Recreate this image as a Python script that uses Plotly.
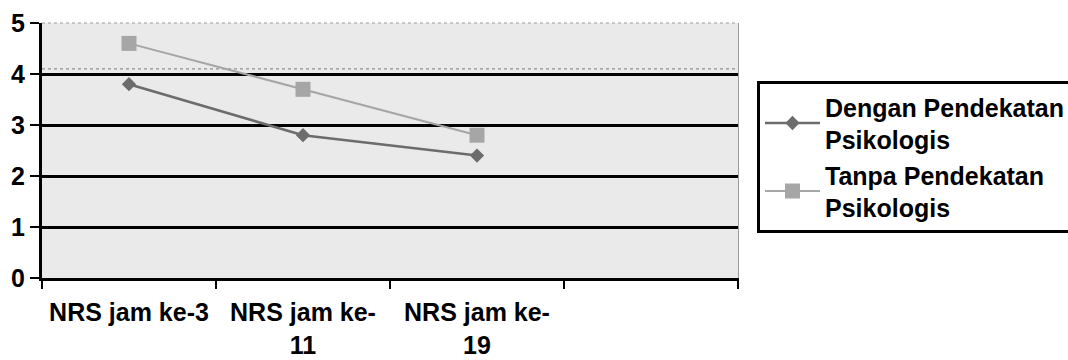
import plotly.graph_objects as go

# NRS pain scores at three measurement times
categories = ["NRS jam ke-3", "NRS jam ke-<br>11", "NRS jam ke-<br>19"]
series_names = ["Dengan Pendekatan<br>Psikologis", "Tanpa Pendekatan<br>Psikologis"]
dengan_values = [3.8, 2.8, 2.4]
tanpa_values = [4.6, 3.7, 2.8]
y_ticks = [0, 1, 2, 3, 4, 5]
grid_values = [1, 2, 3, 4]

FONT = "Liberation Sans, Arial, sans-serif"
x_pos = list(range(len(categories)))

fig = go.Figure()

fig.add_trace(go.Scatter(
    x=x_pos, y=dengan_values, name=series_names[0], mode="lines+markers",
    line=dict(color="#6c6c6c", width=2.5),
    marker=dict(symbol="diamond", size=11, color="#6c6c6c"),
))
fig.add_trace(go.Scatter(
    x=x_pos, y=tanpa_values, name=series_names[1], mode="lines+markers",
    line=dict(color="#a6a6a6", width=2),
    marker=dict(symbol="square", size=15, color="#a6a6a6"),
))

# invisible trace carrying the overlay y-axis used for the heavy gridlines
fig.add_trace(go.Scatter(x=[x_pos[0]], y=[grid_values[0]], yaxis="y2",
                         mode="markers", marker=dict(opacity=0),
                         showlegend=False, hoverinfo="skip"))

fig.update_layout(
    width=1068, height=360,
    margin=dict(l=42, r=330, t=23, b=82),
    paper_bgcolor="white",
    plot_bgcolor="#eaeaea",
    font=dict(family=FONT, size=25, color="black", weight="bold"),
    xaxis=dict(
        range=[-0.5, 3.5], automargin=False,
        tickmode="array", tickvals=x_pos, ticktext=categories,
        ticks="outside", ticklen=8, tickcolor="rgba(0,0,0,0)",
        ticklabelstandoff=2,
        minor=dict(tickmode="linear", tick0=0.5, dtick=1, ticks="outside",
                   ticklen=8, tickwidth=2, tickcolor="black", showgrid=False),
        showgrid=False, zeroline=False,
        showline=True, linecolor="black", linewidth=3,
        tickfont=dict(family=FONT, size=25, color="black", weight="bold"),
    ),
    yaxis=dict(
        range=[0, 5], automargin=False, tickmode="array", tickvals=y_ticks,
        ticks="outside", ticklen=9, tickwidth=2, tickcolor="black",
        ticklabelstandoff=0,
        showgrid=False, zeroline=False,
        showline=True, linecolor="black", linewidth=3,
        tickfont=dict(family=FONT, size=25, color="black", weight="bold"),
    ),
    yaxis2=dict(
        range=[0, 5], overlaying="y", side="right", automargin=False,
        tickmode="array", tickvals=grid_values,
        showticklabels=False, ticks="",
        showgrid=True, gridcolor="black", gridwidth=3,
        zeroline=False, showline=True, linecolor="#9a9a9a", linewidth=1,
        layer="below traces",
    ),
    legend=dict(
        xref="container", yref="container",
        x=757 / 1068, y=1 - 81 / 360, xanchor="left", yanchor="top",
        bgcolor="white", bordercolor="black", borderwidth=3,
        itemwidth=55,
        font=dict(family=FONT, size=25, color="black", weight="bold"),
        tracegroupgap=4,
    ),
    showlegend=True,
)

# thin grey frame on the top of the plot area and a faint dotted rule just above 4
fig.add_shape(type="line", xref="x domain", yref="y domain",
              x0=0, x1=1, y0=1, y1=1,
              line=dict(color="#9a9a9a", width=1, dash="dot"), layer="below")
fig.add_shape(type="line", xref="x domain", yref="y",
              x0=0, x1=1, y0=4.1, y1=4.1,
              line=dict(color="#7a7a7a", width=1, dash="dot"), layer="below")

fig.write_html("out.html")
